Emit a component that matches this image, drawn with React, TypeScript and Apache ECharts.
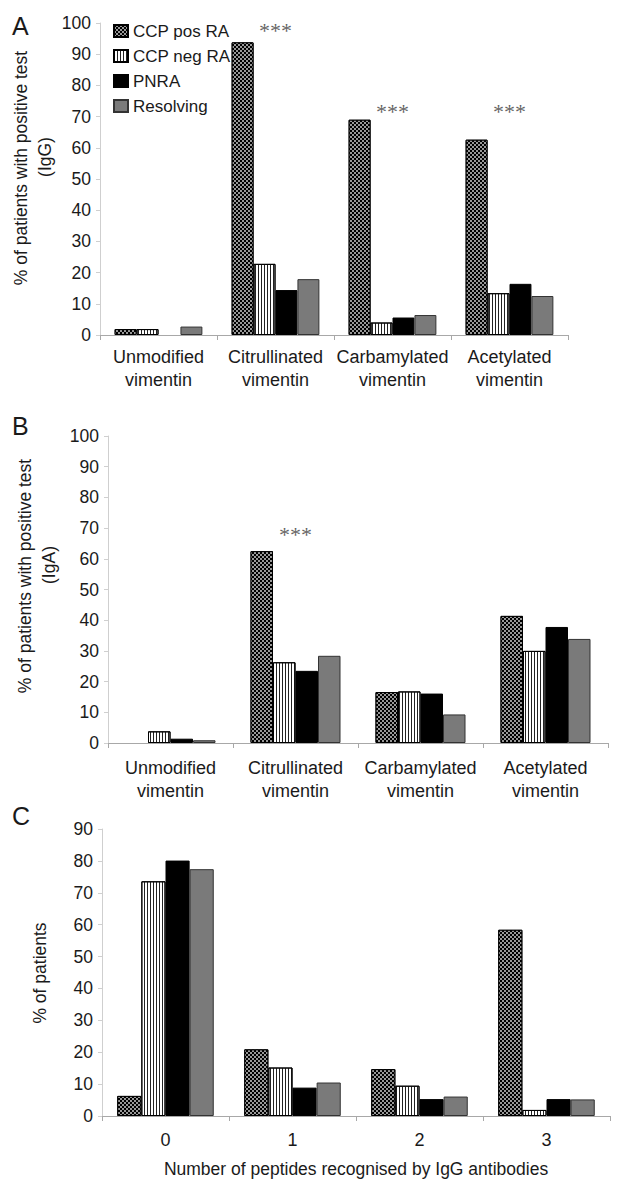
import React, { useEffect, useRef } from "react";
import * as echarts from "echarts";

const seriesNames = ["CCP pos RA", "CCP neg RA", "PNRA", "Resolving"];

const vimentinCategories = [
  "Unmodified\nvimentin",
  "Citrullinated\nvimentin",
  "Carbamylated\nvimentin",
  "Acetylated\nvimentin",
];
const peptideCategories = ["0", "1", "2", "3"];

// Panel A (IgG)
const igGCcpPos = [1.9, 93.8, 69.0, 62.6];
const igGCcpNeg = [1.9, 22.8, 4.0, 13.4];
const igGPnra = [0, 14.4, 5.6, 16.4];
const igGResolving = [2.7, 17.9, 6.4, 12.5];
const igGStars: (number | string)[] = ["-", 97.6, 71.6, 71.6];

// Panel B (IgA)
const igACcpPos = [0, 62.5, 16.6, 41.4];
const igACcpNeg = [3.8, 26.3, 16.8, 30.0];
const igAPnra = [1.4, 23.5, 16.1, 37.8];
const igAResolving = [0.9, 28.4, 9.3, 33.9];
const igAStars: (number | string)[] = ["-", 67.9, "-", "-"];

// Panel C (number of peptides recognised)
const pepCcpPos = [6.3, 20.9, 14.7, 58.4];
const pepCcpNeg = [73.6, 15.2, 9.5, 1.9];
const pepPnra = [80.1, 8.9, 5.3, 5.3];
const pepResolving = [77.4, 10.5, 6.1, 5.2];

const yTicksAB = { min: 0, max: 100, interval: 10 };
const yTicksC = { min: 0, max: 90, interval: 10 };

const FONT = "Liberation Sans, Arial, Helvetica, sans-serif";
const TEXT = "#1a1a1a";

const styles = [
  {
    color: "#000000",
    borderColor: "#000",
    borderWidth: 1,
    decal: {
      symbol: "rect",
      symbolSize: 0.8,
      color: "#ffffff",
      dashArrayX: [
        [2, 2],
        [0, 2, 2, 0],
      ],
      dashArrayY: [2, 0],
      rotation: 0,
    },
  },
  {
    color: "#ffffff",
    borderColor: "#000",
    borderWidth: 1,
    decal: {
      symbol: "rect",
      symbolSize: 1,
      color: "#222",
      dashArrayX: [1, 2],
      dashArrayY: [4, 0],
      rotation: 0,
    },
  },
  { color: "#000000", borderColor: "#000", borderWidth: 1, decal: "none" },
  { color: "#7a7a7a", borderColor: "#333", borderWidth: 1, decal: "none" },
];

export default function App() {
  const ref = useRef<HTMLDivElement>(null);

  useEffect(() => {
    if (!ref.current) return;
    const chart = echarts.init(ref.current, undefined, { renderer: "svg" });

    const grids = [
      { left: 100, top: 23, width: 468, height: 312 },
      { left: 108, top: 436, width: 500, height: 307 },
      { left: 102, top: 829, width: 508, height: 287 },
    ];
    const gaps = ["25%", "28%", "24%"];
    const labelMargins = [10, 13, 12];

    const xAxes = grids.map((_, i) => ({
      type: "category",
      gridIndex: i,
      data: i < 2 ? vimentinCategories : peptideCategories,
      axisLine: { lineStyle: { color: "#a8a8a8", width: 1 } },
      axisTick: { show: true, length: 5, alignWithLabel: false, lineStyle: { color: "#a8a8a8" } },
      axisLabel: {
        interval: 0,
        margin: labelMargins[i],
        color: TEXT,
        fontFamily: FONT,
        fontSize: 18,
        lineHeight: 23,
      },
      name: i === 2 ? "Number of peptides recognised by IgG antibodies" : "",
      nameLocation: "middle",
      nameGap: 44,
      nameTextStyle: { color: TEXT, fontFamily: FONT, fontSize: 17.5 },
    }));

    const yAxes = grids.map((_, i) => ({
      type: "value",
      gridIndex: i,
      ...(i < 2 ? yTicksAB : yTicksC),
      splitLine: { show: false },
      axisLine: { show: true, lineStyle: { color: "#cfcfcf", width: 1 } },
      axisTick: { show: true, length: 4, lineStyle: { color: "#cfcfcf" } },
      axisLabel: { color: TEXT, fontFamily: FONT, fontSize: 17.5, margin: 9 },
    }));

    const panels = [
      [igGCcpPos, igGCcpNeg, igGPnra, igGResolving],
      [igACcpPos, igACcpNeg, igAPnra, igAResolving],
      [pepCcpPos, pepCcpNeg, pepPnra, pepResolving],
    ];

    const series: any[] = [];
    panels.forEach((panel, gi) => {
      panel.forEach((values, si) => {
        series.push({
          type: "bar",
          name: seriesNames[si],
          xAxisIndex: gi,
          yAxisIndex: gi,
          data: values.map((v) => (v === 0 ? { value: 0, itemStyle: { borderWidth: 0, opacity: 0 } } : v)),
          barGap: "0%",
          barCategoryGap: gaps[gi],
          itemStyle: styles[si],
          emphasis: { disabled: true },
        });
      });
    });

    const stars = [igGStars, igAStars];
    stars.forEach((values, gi) => {
      series.push({
        type: "scatter",
        xAxisIndex: gi,
        yAxisIndex: gi,
        data: values,
        symbolSize: 0,
        silent: true,
        label: {
          show: true,
          position: "inside",
          formatter: "***",
          fontFamily: "Liberation Serif, Times New Roman, serif",
          fontSize: 22,
          color: "#3a3a3a",
        },
      });
    });

    const yNameStyle = { font: `17.5px ${FONT}`, fill: TEXT, align: "center", verticalAlign: "middle" };
    const letterStyle = { font: `25px ${FONT}`, fill: TEXT, align: "left", verticalAlign: "top" };

    chart.setOption({
      animation: false,
      backgroundColor: "#ffffff",
      grid: grids.map((g) => ({ ...g, containLabel: false })),
      xAxis: xAxes,
      yAxis: yAxes,
      legend: {
        data: seriesNames,
        orient: "vertical",
        left: 113,
        top: 22,
        padding: 0,
        itemWidth: 14,
        itemHeight: 12,
        itemGap: 7,
        icon: "rect",
        selectedMode: false,
        textStyle: { color: TEXT, fontFamily: FONT, fontSize: 17, lineHeight: 18 },
      },
      series,
      graphic: [
        { type: "text", left: 12, top: 13, style: { ...letterStyle, text: "A" } },
        { type: "text", left: 12, top: 413, style: { ...letterStyle, text: "B" } },
        { type: "text", left: 12, top: 803, style: { ...letterStyle, text: "C" } },
        { type: "text", x: 21, y: 168, rotation: Math.PI / 2, style: { ...yNameStyle, text: "% of patients with positive test" } },
        { type: "text", x: 45, y: 157, rotation: Math.PI / 2, style: { ...yNameStyle, text: "(IgG)" } },
        { type: "text", x: 25, y: 576, rotation: Math.PI / 2, style: { ...yNameStyle, text: "% of patients with positive test" } },
        { type: "text", x: 49, y: 565, rotation: Math.PI / 2, style: { ...yNameStyle, text: "(IgA)" } },
        { type: "text", x: 40, y: 973, rotation: Math.PI / 2, style: { ...yNameStyle, text: "% of patients" } },
      ],
    });

    return () => chart.dispose();
  }, []);

  return (
    <div
      ref={ref}
      style={{ position: "absolute", left: 0, top: 0, width: 617, height: 1180, background: "#fff" }}
    />
  );
}
